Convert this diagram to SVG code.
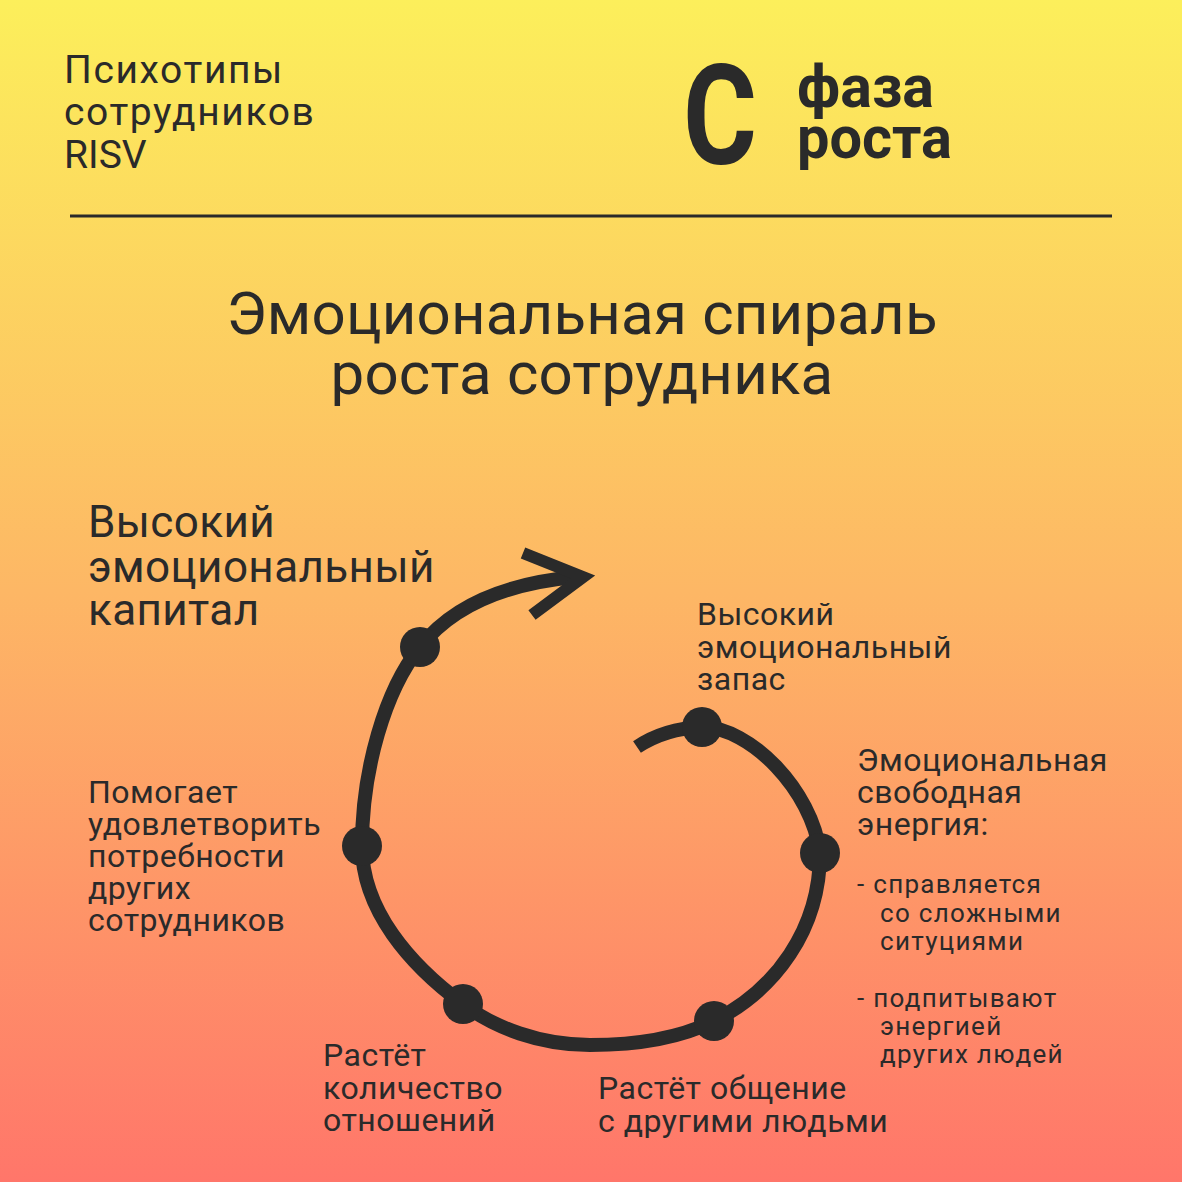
<svg xmlns="http://www.w3.org/2000/svg" width="1182" height="1182" viewBox="0 0 1182 1182">
<defs>
<linearGradient id="bg" x1="0" y1="0" x2="0" y2="1">
<stop offset="0" stop-color="#FCEF5B"/>
<stop offset="0.5" stop-color="#FDB765"/>
<stop offset="1" stop-color="#FF766A"/>
</linearGradient>
<style>
text{font-family:Roboto,"Noto Sans",sans-serif;fill:#2a2a2a;}
.h{font-size:39px;}
.hl{letter-spacing:1.6px;}
.t{font-size:60px;letter-spacing:0.2px;}
.l{font-size:44px;letter-spacing:0.4px;}
.m{font-size:32px;letter-spacing:0.5px;}
.s{font-size:26px;letter-spacing:1.3px;}
.b{font-weight:700;}
.dot{fill:#2a2a2a;}
.sp{fill:none;stroke:#2a2a2a;stroke-width:14;}
</style>
</defs>
<rect width="1182" height="1182" fill="url(#bg)"/>
<g id="header">
<text class="h hl" x="64" y="83">Психотипы</text>
<text class="h hl" x="64" y="125">сотрудников</text>
<text class="h" x="64" y="168">RISV</text>
<text class="b" x="683" y="164" font-size="140" textLength="74" lengthAdjust="spacingAndGlyphs">С</text>
<text class="b" x="797" y="107" font-size="60" textLength="137" lengthAdjust="spacingAndGlyphs">фаза</text>
<text class="b" x="797" y="158" font-size="60" textLength="155" lengthAdjust="spacingAndGlyphs">роста</text>
<line x1="70" y1="216" x2="1112" y2="216" stroke="#2a2a2a" stroke-width="3"/>
</g>
<g id="title">
<text class="t" x="582" y="334" text-anchor="middle">Эмоциональная спираль</text>
<text class="t" x="582" y="394" text-anchor="middle">роста сотрудника</text>
</g>
<g id="connectors">
<path class="sp" d="M637 747 C655 735 678 728 702 727 C750 727 812 790 820 853 C820 930 775 990 714 1021 C680 1038 640 1045 590 1045 C540 1045 495 1028 463 1004 C410 965 362 910 362 846 C362 770 385 690 420 647 C445 615 490 585 575 577"/>
<polyline points="523,553 583,577 532,615" fill="none" stroke="#2a2a2a" stroke-width="12"/>
</g>
<g id="node-capital">
<circle class="dot" cx="420" cy="647" r="20"/>
<text class="l" x="88" y="537">Высокий</text>
<text class="l" x="88" y="582">эмоциональный</text>
<text class="l" x="88" y="625">капитал</text>
</g>
<g id="node-reserve">
<circle class="dot" cx="702" cy="727" r="20"/>
<text class="m" x="697" y="625">Высокий</text>
<text class="m" x="697" y="658">эмоциональный</text>
<text class="m" x="697" y="690">запас</text>
</g>
<g id="node-energy">
<circle class="dot" cx="820" cy="853" r="20"/>
<text class="m" x="857" y="771">Эмоциональная</text>
<text class="m" x="857" y="803">свободная</text>
<text class="m" x="857" y="835">энергия:</text>
<text class="s" x="857" y="893">- справляется</text>
<text class="s" x="880" y="922">со сложными</text>
<text class="s" x="880" y="950">ситуциями</text>
<text class="s" x="857" y="1007">- подпитывают</text>
<text class="s" x="880" y="1035">энергией</text>
<text class="s" x="880" y="1063">других людей</text>
</g>
<g id="node-communication">
<circle class="dot" cx="714" cy="1021" r="20"/>
<text class="m" x="598" y="1099">Растёт общение</text>
<text class="m" x="598" y="1132">с другими людьми</text>
</g>
<g id="node-relations">
<circle class="dot" cx="463" cy="1004" r="20"/>
<text class="m" x="323" y="1066">Растёт</text>
<text class="m" x="323" y="1099">количество</text>
<text class="m" x="323" y="1131">отношений</text>
</g>
<g id="node-help">
<circle class="dot" cx="362" cy="846" r="20"/>
<text class="m" x="88" y="803">Помогает</text>
<text class="m" x="88" y="835">удовлетворить</text>
<text class="m" x="88" y="867">потребности</text>
<text class="m" x="88" y="899">других</text>
<text class="m" x="88" y="931">сотрудников</text>
</g>
</svg>
